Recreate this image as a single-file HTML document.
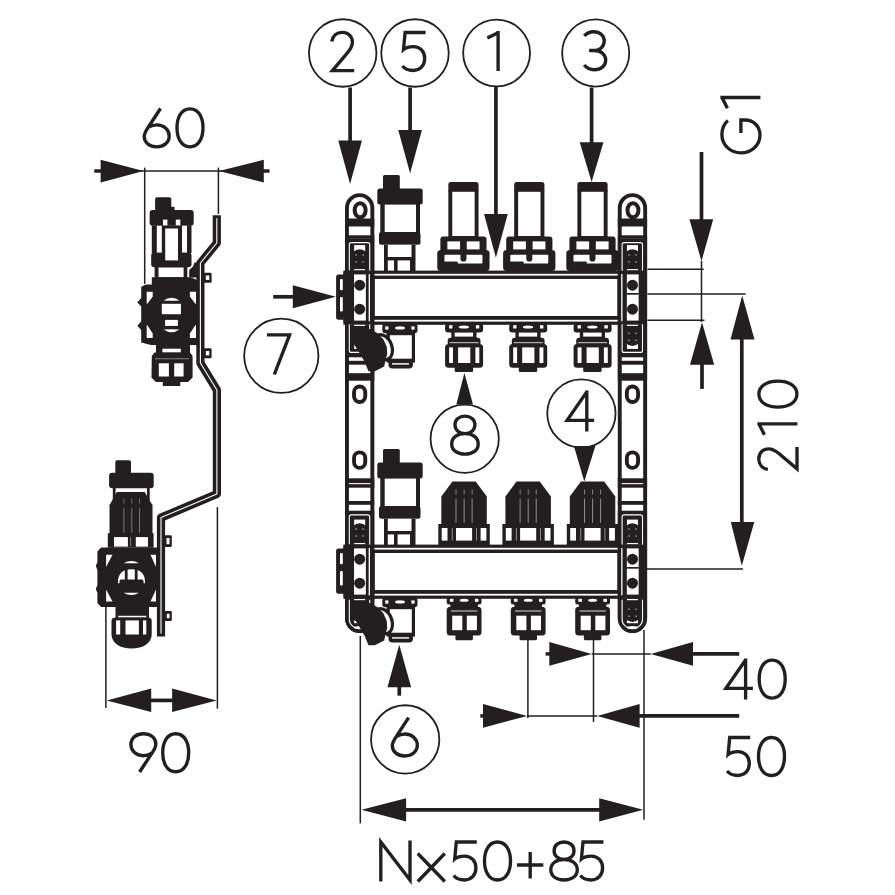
<!DOCTYPE html>
<html><head><meta charset="utf-8"><style>
html,body{margin:0;padding:0;background:#fff;}
svg{display:block;}
</style></head><body>
<svg width="895" height="895" viewBox="0 0 895 895">
<rect width="895" height="895" fill="#fff"/>
<circle cx="342.70" cy="53.00" r="33.75" fill="none" stroke="#231f20" stroke-width="1.8"/>
<circle cx="415.00" cy="53.00" r="33.75" fill="none" stroke="#231f20" stroke-width="1.8"/>
<circle cx="496.60" cy="53.00" r="33.45" fill="none" stroke="#231f20" stroke-width="1.8"/>
<circle cx="595.70" cy="53.00" r="33.55" fill="none" stroke="#231f20" stroke-width="1.8"/>
<circle cx="281.30" cy="355.80" r="37.15" fill="none" stroke="#231f20" stroke-width="1.8"/>
<circle cx="464.70" cy="438.80" r="34.15" fill="none" stroke="#231f20" stroke-width="1.8"/>
<circle cx="581.40" cy="413.50" r="34.15" fill="none" stroke="#231f20" stroke-width="1.8"/>
<circle cx="405.20" cy="739.40" r="34.15" fill="none" stroke="#231f20" stroke-width="1.8"/>
<g transform="translate(330.20,31.00) rotate(0) scale(1.0)"><path transform="translate(0.00,0)" d="M1.6,10.5 C2.5,4.8 6.5,1.4 12,1.4 C18,1.4 22.2,5.5 22.2,11.2 C22.2,15.5 20,18.5 17.2,21.8 L2.2,39.6 L24,39.6" fill="none" stroke="#231f20" stroke-width="3.35" stroke-linecap="butt" stroke-linejoin="miter"/></g>
<g transform="translate(401.10,31.00) rotate(0) scale(1.0)"><path transform="translate(0.00,0)" d="M24.5,1.5 L4,1.5 L2.4,18.5 C4.8,16.5 8.3,15.6 12.3,15.6 C19,15.6 23.6,20.5 23.6,27.5 C23.6,34.7 18.8,39.5 12.2,39.5 C7.5,39.5 3.5,37.7 1.4,35" fill="none" stroke="#231f20" stroke-width="3.35" stroke-linecap="butt" stroke-linejoin="miter"/></g>
<g transform="translate(485.80,31.10) rotate(0) scale(1.0)"><path transform="translate(0.00,0)" d="M1.5,7 L12.3,1.6 M12.3,0 L12.3,40" fill="none" stroke="#231f20" stroke-width="3.35" stroke-linecap="butt" stroke-linejoin="miter"/></g>
<g transform="translate(582.70,30.20) rotate(0) scale(1.0)"><path transform="translate(0.00,0)" d="M1.6,5.6 C4,2.8 7.5,1.5 11,1.5 C17,1.5 21.5,5.2 21.5,10.8 C21.5,16.5 17,20.3 11,20.3 L6.4,20.3 M11,20.3 C18.5,20.3 23,24.5 23,30 C23,35.8 18.2,39.5 11.5,39.5 C7.3,39.5 3.8,37.6 1.5,34.8" fill="none" stroke="#231f20" stroke-width="3.35" stroke-linecap="butt" stroke-linejoin="miter"/></g>
<g transform="translate(265.80,333.50) rotate(0) scale(1.0)"><path transform="translate(0.00,0)" d="M1.2,1.4 L23.8,1.4 L8.5,41" fill="none" stroke="#231f20" stroke-width="3.35" stroke-linecap="butt" stroke-linejoin="miter"/></g>
<g transform="translate(450.20,414.60) rotate(0) scale(1.0)"><path transform="translate(0.00,0)" d="M14.75,19 C9,19 4.8,15.5 4.8,10.2 C4.8,4.9 9,1.5 14.75,1.5 C20.5,1.5 24.7,4.9 24.7,10.2 C24.7,15.5 20.5,19 14.75,19 C7,19 1.5,23 1.5,29.3 C1.5,35.6 7,39.5 14.75,39.5 C22.5,39.5 28,35.6 28,29.3 C28,23 22.5,19 14.75,19 Z" fill="none" stroke="#231f20" stroke-width="3.35" stroke-linecap="butt" stroke-linejoin="miter"/></g>
<g transform="translate(565.30,390.50) rotate(0) scale(1.0)"><path transform="translate(0.00,0)" d="M21.5,1.4 L1.8,29.8 L28.8,29.8 M21.5,0 L21.5,41" fill="none" stroke="#231f20" stroke-width="3.35" stroke-linecap="butt" stroke-linejoin="miter"/></g>
<g transform="translate(390.80,716.50) rotate(0) scale(1.0)"><path transform="translate(0.00,0)" d="M17.8,1.2 L5.4,20.2 C3.2,23.5 1.5,26 1.5,29.3 C1.5,35.3 7,39.5 14,39.5 C21,39.5 26.5,35.3 26.5,28.6 C26.5,22.2 21,17.5 14.3,17.5 C11.3,17.5 8.5,18.3 6,19.8" fill="none" stroke="#231f20" stroke-width="3.35" stroke-linecap="butt" stroke-linejoin="miter"/></g>
<line x1="350.10" y1="87.50" x2="350.10" y2="141.60" stroke="#231f20" stroke-width="3.7"/>
<polygon points="338.25,140.60 361.95,140.60 350.10,183.90" fill="#231f20"/>
<line x1="410.10" y1="87.50" x2="410.10" y2="130.90" stroke="#231f20" stroke-width="3.7"/>
<polygon points="398.25,129.90 421.95,129.90 410.10,173.20" fill="#231f20"/>
<line x1="495.90" y1="87.00" x2="495.90" y2="215.10" stroke="#231f20" stroke-width="3.7"/>
<polygon points="484.05,214.10 507.75,214.10 495.90,257.70" fill="#231f20"/>
<line x1="591.60" y1="87.50" x2="591.60" y2="143.30" stroke="#231f20" stroke-width="3.7"/>
<polygon points="579.75,142.30 603.45,142.30 591.60,181.90" fill="#231f20"/>
<line x1="273.20" y1="296.80" x2="293.80" y2="296.80" stroke="#231f20" stroke-width="3.7"/>
<polygon points="292.80,285.30 292.80,308.30 335.90,296.80" fill="#231f20"/>
<polygon points="456.30,404.40 473.00,404.40 464.40,373.10" fill="#231f20"/>
<polygon points="573.90,446.00 595.40,446.00 584.30,481.40" fill="#231f20"/>
<line x1="399.30" y1="695.70" x2="399.30" y2="686.20" stroke="#231f20" stroke-width="3.7"/>
<polygon points="387.45,687.20 411.15,687.20 399.30,644.70" fill="#231f20"/>
<rect x="343.40" y="270.60" width="278.60" height="54.20" rx="0" fill="#231f20" />
<rect x="374.70" y="279.00" width="242.70" height="37.00" rx="0" fill="#fff" />
<rect x="372.00" y="273.80" width="247.50" height="1.80" rx="0" fill="#fff" />
<rect x="372.00" y="319.80" width="247.50" height="1.80" rx="0" fill="#fff" />
<rect x="368.60" y="274.10" width="1.30" height="47.20" rx="0" fill="#fff" />
<rect x="621.20" y="274.10" width="1.30" height="47.20" rx="0" fill="#fff" />
<rect x="343.40" y="544.60" width="278.60" height="54.20" rx="0" fill="#231f20" />
<rect x="374.70" y="553.00" width="242.70" height="37.00" rx="0" fill="#fff" />
<rect x="372.00" y="547.80" width="247.50" height="1.80" rx="0" fill="#fff" />
<rect x="372.00" y="593.80" width="247.50" height="1.80" rx="0" fill="#fff" />
<rect x="368.60" y="548.10" width="1.30" height="47.20" rx="0" fill="#fff" />
<rect x="621.20" y="548.10" width="1.30" height="47.20" rx="0" fill="#fff" />
<rect x="346.95" y="195.15" width="25.40" height="435.9" rx="12.7" fill="#fff" stroke="#231f20" stroke-width="3.9"/>
<ellipse cx="360.15" cy="210.2" rx="5.5" ry="7" fill="none" stroke="#231f20" stroke-width="4"/>
<rect x="345.00" y="218.50" width="29.30" height="8.00" rx="0" fill="#231f20" />
<rect x="345.00" y="235.30" width="29.30" height="3.40" rx="0" fill="#231f20" />
<rect x="345.00" y="238.40" width="29.30" height="32.50" rx="0" fill="#231f20" />
<path d="M349.30,271.10 L349.30,244.60 Q349.30,242.60 351.30,242.60 L367.70,242.60 Q369.70,242.60 369.70,244.60 L369.70,271.10" fill="none" stroke="#fff" stroke-width="1.1"/>
<rect x="354.15" y="245.10" width="11.00" height="6.90" rx="0" fill="#fff" />
<circle cx="359.65" cy="258.50" r="9.2" fill="#231f20"/>
<rect x="355.05" y="254.40" width="2.2" height="1.2" fill="#8a8a8a"/>
<rect x="355.05" y="261.40" width="2.2" height="1.2" fill="#8a8a8a"/>
<rect x="362.05" y="254.40" width="2.2" height="1.2" fill="#8a8a8a"/>
<rect x="362.05" y="261.40" width="2.2" height="1.2" fill="#8a8a8a"/>
<rect x="354.15" y="269.10" width="11.00" height="1.20" rx="0" fill="#fff" />
<rect x="345.00" y="270.60" width="29.30" height="54.20" rx="0" fill="#231f20" />
<rect x="354.05" y="274.40" width="11.80" height="46.20" rx="0" fill="#fff" />
<circle cx="359.65" cy="285.2" r="5.5" fill="#231f20"/>
<circle cx="359.65" cy="309.2" r="5.5" fill="#231f20"/>
<rect x="368.65" y="274.10" width="1.30" height="47.20" rx="0" fill="#fff" />
<rect x="345.00" y="324.50" width="29.30" height="32.10" rx="0" fill="#231f20" />
<path d="M349.30,324.30 L349.30,350.40 Q349.30,352.40 351.30,352.40 L367.70,352.40 Q369.70,352.40 369.70,350.40 L369.70,324.30" fill="none" stroke="#fff" stroke-width="1.1"/>
<rect x="354.15" y="342.00" width="11.00" height="6.90" rx="0" fill="#fff" />
<circle cx="359.65" cy="336.80" r="9.2" fill="#231f20"/>
<rect x="355.05" y="332.70" width="2.2" height="1.2" fill="#8a8a8a"/>
<rect x="355.05" y="339.70" width="2.2" height="1.2" fill="#8a8a8a"/>
<rect x="362.05" y="332.70" width="2.2" height="1.2" fill="#8a8a8a"/>
<rect x="362.05" y="339.70" width="2.2" height="1.2" fill="#8a8a8a"/>
<rect x="354.15" y="324.80" width="11.00" height="1.20" rx="0" fill="#fff" />
<rect x="345.00" y="356.00" width="29.30" height="24.70" rx="0" fill="#231f20" />
<rect x="348.95" y="357.30" width="21.40" height="3.50" rx="0" fill="#fff" />
<rect x="348.95" y="364.70" width="21.40" height="8.50" rx="0" fill="#fff" />
<rect x="354.05" y="386.45" width="11.2" height="15.5" rx="5.6" ry="5.6" fill="none" stroke="#231f20" stroke-width="3.9"/>
<rect x="354.05" y="452.35" width="11.2" height="15.5" rx="5.6" ry="5.6" fill="none" stroke="#231f20" stroke-width="3.9"/>
<rect x="345.00" y="478.30" width="29.30" height="9.40" rx="0" fill="#231f20" />
<rect x="348.90" y="483.10" width="21.50" height="1.10" rx="0" fill="#fff" />
<rect x="345.00" y="501.00" width="29.30" height="3.80" rx="0" fill="#231f20" />
<rect x="345.00" y="510.70" width="29.30" height="34.20" rx="0" fill="#231f20" />
<path d="M349.30,545.10 L349.30,516.90 Q349.30,514.90 351.30,514.90 L367.70,514.90 Q369.70,514.90 369.70,516.90 L369.70,545.10" fill="none" stroke="#fff" stroke-width="1.1"/>
<rect x="354.15" y="519.60" width="11.00" height="6.40" rx="0" fill="#fff" />
<circle cx="359.65" cy="532.50" r="9.2" fill="#231f20"/>
<rect x="355.05" y="528.40" width="2.2" height="1.2" fill="#8a8a8a"/>
<rect x="355.05" y="535.40" width="2.2" height="1.2" fill="#8a8a8a"/>
<rect x="362.05" y="528.40" width="2.2" height="1.2" fill="#8a8a8a"/>
<rect x="362.05" y="535.40" width="2.2" height="1.2" fill="#8a8a8a"/>
<rect x="354.15" y="543.00" width="11.00" height="1.20" rx="0" fill="#fff" />
<rect x="345.00" y="544.60" width="29.30" height="54.30" rx="0" fill="#231f20" />
<rect x="354.05" y="548.40" width="11.80" height="46.20" rx="0" fill="#fff" />
<circle cx="359.65" cy="559.2" r="5.5" fill="#231f20"/>
<circle cx="359.65" cy="583.2" r="5.5" fill="#231f20"/>
<rect x="368.65" y="548.10" width="1.30" height="47.20" rx="0" fill="#fff" />
<path d="M345.00,598.6 L374.30,598.6 L374.30,618.35 A14.65,14.65 0 0 1 345.00,618.35 Z" fill="#231f20"/>
<path d="M349.30,599.8 L349.30,619.5 A10.2,9 0 0 0 369.70,619.5 L369.70,599.8" fill="none" stroke="#fff" stroke-width="1.1"/>
<rect x="354.15" y="617.00" width="11.00" height="6.20" rx="0" fill="#fff" />
<circle cx="359.65" cy="612.70" r="9.2" fill="#231f20"/>
<rect x="355.05" y="608.60" width="2.2" height="1.2" fill="#8a8a8a"/>
<rect x="355.05" y="615.60" width="2.2" height="1.2" fill="#8a8a8a"/>
<rect x="362.05" y="608.60" width="2.2" height="1.2" fill="#8a8a8a"/>
<rect x="362.05" y="615.60" width="2.2" height="1.2" fill="#8a8a8a"/>
<rect x="354.15" y="599.00" width="11.00" height="1.20" rx="0" fill="#fff" />
<ellipse cx="359.65" cy="627.6" rx="6.0" ry="1.6" fill="#fff"/>
<rect x="619.75" y="195.15" width="25.40" height="435.9" rx="12.7" fill="#fff" stroke="#231f20" stroke-width="3.9"/>
<ellipse cx="632.95" cy="210.2" rx="5.5" ry="7" fill="none" stroke="#231f20" stroke-width="4"/>
<rect x="617.80" y="218.50" width="29.30" height="8.00" rx="0" fill="#231f20" />
<rect x="617.80" y="235.30" width="29.30" height="3.40" rx="0" fill="#231f20" />
<rect x="617.80" y="238.40" width="29.30" height="32.50" rx="0" fill="#231f20" />
<path d="M622.10,271.10 L622.10,244.60 Q622.10,242.60 624.10,242.60 L640.50,242.60 Q642.50,242.60 642.50,244.60 L642.50,271.10" fill="none" stroke="#fff" stroke-width="1.1"/>
<rect x="626.95" y="245.10" width="11.00" height="6.90" rx="0" fill="#fff" />
<circle cx="632.45" cy="258.50" r="9.2" fill="#231f20"/>
<rect x="627.85" y="254.40" width="2.2" height="1.2" fill="#8a8a8a"/>
<rect x="627.85" y="261.40" width="2.2" height="1.2" fill="#8a8a8a"/>
<rect x="634.85" y="254.40" width="2.2" height="1.2" fill="#8a8a8a"/>
<rect x="634.85" y="261.40" width="2.2" height="1.2" fill="#8a8a8a"/>
<rect x="626.95" y="269.10" width="11.00" height="1.20" rx="0" fill="#fff" />
<rect x="617.80" y="270.60" width="29.30" height="54.20" rx="0" fill="#231f20" />
<rect x="626.85" y="274.40" width="11.80" height="46.20" rx="0" fill="#fff" />
<circle cx="632.45" cy="285.2" r="5.5" fill="#231f20"/>
<circle cx="632.45" cy="309.2" r="5.5" fill="#231f20"/>
<rect x="621.20" y="274.10" width="1.30" height="47.20" rx="0" fill="#fff" />
<rect x="626.85" y="293.00" width="11.80" height="1.70" rx="0" fill="#231f20" />
<rect x="617.80" y="324.50" width="29.30" height="32.10" rx="0" fill="#231f20" />
<path d="M622.10,324.30 L622.10,350.40 Q622.10,352.40 624.10,352.40 L640.50,352.40 Q642.50,352.40 642.50,350.40 L642.50,324.30" fill="none" stroke="#fff" stroke-width="1.1"/>
<rect x="626.95" y="342.00" width="11.00" height="6.90" rx="0" fill="#fff" />
<circle cx="632.45" cy="336.80" r="9.2" fill="#231f20"/>
<rect x="627.85" y="332.70" width="2.2" height="1.2" fill="#8a8a8a"/>
<rect x="627.85" y="339.70" width="2.2" height="1.2" fill="#8a8a8a"/>
<rect x="634.85" y="332.70" width="2.2" height="1.2" fill="#8a8a8a"/>
<rect x="634.85" y="339.70" width="2.2" height="1.2" fill="#8a8a8a"/>
<rect x="626.95" y="324.80" width="11.00" height="1.20" rx="0" fill="#fff" />
<rect x="617.80" y="356.00" width="29.30" height="24.70" rx="0" fill="#231f20" />
<rect x="621.75" y="357.30" width="21.40" height="3.50" rx="0" fill="#fff" />
<rect x="621.75" y="364.70" width="21.40" height="8.50" rx="0" fill="#fff" />
<rect x="626.85" y="386.45" width="11.2" height="15.5" rx="5.6" ry="5.6" fill="none" stroke="#231f20" stroke-width="3.9"/>
<rect x="626.85" y="452.35" width="11.2" height="15.5" rx="5.6" ry="5.6" fill="none" stroke="#231f20" stroke-width="3.9"/>
<rect x="617.80" y="478.30" width="29.30" height="9.40" rx="0" fill="#231f20" />
<rect x="621.70" y="483.10" width="21.50" height="1.10" rx="0" fill="#fff" />
<rect x="617.80" y="501.00" width="29.30" height="3.80" rx="0" fill="#231f20" />
<rect x="617.80" y="510.70" width="29.30" height="34.20" rx="0" fill="#231f20" />
<path d="M622.10,545.10 L622.10,516.90 Q622.10,514.90 624.10,514.90 L640.50,514.90 Q642.50,514.90 642.50,516.90 L642.50,545.10" fill="none" stroke="#fff" stroke-width="1.1"/>
<rect x="626.95" y="519.60" width="11.00" height="6.40" rx="0" fill="#fff" />
<circle cx="632.45" cy="532.50" r="9.2" fill="#231f20"/>
<rect x="627.85" y="528.40" width="2.2" height="1.2" fill="#8a8a8a"/>
<rect x="627.85" y="535.40" width="2.2" height="1.2" fill="#8a8a8a"/>
<rect x="634.85" y="528.40" width="2.2" height="1.2" fill="#8a8a8a"/>
<rect x="634.85" y="535.40" width="2.2" height="1.2" fill="#8a8a8a"/>
<rect x="626.95" y="543.00" width="11.00" height="1.20" rx="0" fill="#fff" />
<rect x="617.80" y="544.60" width="29.30" height="54.30" rx="0" fill="#231f20" />
<rect x="626.85" y="548.40" width="11.80" height="46.20" rx="0" fill="#fff" />
<circle cx="632.45" cy="559.2" r="5.5" fill="#231f20"/>
<circle cx="632.45" cy="583.2" r="5.5" fill="#231f20"/>
<rect x="621.20" y="548.10" width="1.30" height="47.20" rx="0" fill="#fff" />
<rect x="626.85" y="567.00" width="11.80" height="1.70" rx="0" fill="#231f20" />
<path d="M617.80,598.6 L647.10,598.6 L647.10,618.35 A14.65,14.65 0 0 1 617.80,618.35 Z" fill="#231f20"/>
<path d="M622.10,599.8 L622.10,619.5 A10.2,9 0 0 0 642.50,619.5 L642.50,599.8" fill="none" stroke="#fff" stroke-width="1.1"/>
<rect x="626.95" y="617.00" width="11.00" height="6.20" rx="0" fill="#fff" />
<circle cx="632.45" cy="612.70" r="9.2" fill="#231f20"/>
<rect x="627.85" y="608.60" width="2.2" height="1.2" fill="#8a8a8a"/>
<rect x="627.85" y="615.60" width="2.2" height="1.2" fill="#8a8a8a"/>
<rect x="634.85" y="608.60" width="2.2" height="1.2" fill="#8a8a8a"/>
<rect x="634.85" y="615.60" width="2.2" height="1.2" fill="#8a8a8a"/>
<rect x="626.95" y="599.00" width="11.00" height="1.20" rx="0" fill="#fff" />
<ellipse cx="632.45" cy="627.6" rx="6.0" ry="1.6" fill="#fff"/>
<rect x="383.00" y="175.00" width="16.80" height="15.00" rx="1.5" fill="#231f20" />
<rect x="377.30" y="188.40" width="45.40" height="16.20" rx="2.5" fill="#231f20" />
<rect x="380.30" y="204.00" width="39.70" height="29.00" rx="0" fill="#231f20" />
<rect x="384.70" y="204.60" width="31.30" height="27.40" rx="0" fill="#fff" />
<rect x="379.00" y="232.00" width="41.50" height="12.80" rx="2.5" fill="#231f20" />
<rect x="384.00" y="244.80" width="31.50" height="26.20" rx="0" fill="#231f20" />
<rect x="387.80" y="244.80" width="23.70" height="12.20" rx="0" fill="#fff" />
<rect x="387.80" y="260.40" width="6.20" height="10.20" rx="0" fill="#fff" />
<rect x="397.60" y="260.40" width="12.40" height="10.20" rx="0" fill="#fff" />
<rect x="383.00" y="449.00" width="16.80" height="15.00" rx="1.5" fill="#231f20" />
<rect x="377.30" y="462.40" width="45.40" height="16.20" rx="2.5" fill="#231f20" />
<rect x="380.30" y="478.00" width="39.70" height="29.00" rx="0" fill="#231f20" />
<rect x="384.70" y="478.60" width="31.30" height="27.40" rx="0" fill="#fff" />
<rect x="379.00" y="506.00" width="41.50" height="12.80" rx="2.5" fill="#231f20" />
<rect x="384.00" y="518.80" width="31.50" height="26.20" rx="0" fill="#231f20" />
<rect x="387.80" y="518.80" width="23.70" height="12.20" rx="0" fill="#fff" />
<rect x="387.80" y="534.40" width="6.20" height="10.20" rx="0" fill="#fff" />
<rect x="397.60" y="534.40" width="12.40" height="10.20" rx="0" fill="#fff" />
<rect x="448.35" y="182.00" width="30.20" height="10.50" rx="2.5" fill="#231f20" />
<rect x="448.35" y="190.00" width="30.20" height="47.00" rx="0" fill="#231f20" />
<rect x="452.25" y="191.80" width="22.40" height="44.20" rx="0" fill="#fff" />
<rect x="440.35" y="236.40" width="46.20" height="15.60" rx="3" fill="#231f20" />
<rect x="447.35" y="241.40" width="12.70" height="8.00" rx="0" fill="#fff" />
<rect x="466.75" y="241.40" width="12.80" height="8.00" rx="0" fill="#fff" />
<rect x="437.25" y="250.10" width="52.30" height="20.90" rx="3.5" fill="#231f20" />
<rect x="444.45" y="254.80" width="38.00" height="8.70" rx="1" fill="#fff" />
<rect x="460.45" y="252.00" width="6.00" height="9.50" rx="2.8" fill="#231f20" />
<rect x="443.65" y="261.60" width="14.10" height="4.40" rx="1" fill="#231f20" />
<rect x="514.20" y="182.00" width="30.20" height="10.50" rx="2.5" fill="#231f20" />
<rect x="514.20" y="190.00" width="30.20" height="47.00" rx="0" fill="#231f20" />
<rect x="518.10" y="191.80" width="22.40" height="44.20" rx="0" fill="#fff" />
<rect x="506.20" y="236.40" width="46.20" height="15.60" rx="3" fill="#231f20" />
<rect x="513.20" y="241.40" width="12.70" height="8.00" rx="0" fill="#fff" />
<rect x="532.60" y="241.40" width="12.80" height="8.00" rx="0" fill="#fff" />
<rect x="503.10" y="250.10" width="52.30" height="20.90" rx="3.5" fill="#231f20" />
<rect x="510.30" y="254.80" width="38.00" height="8.70" rx="1" fill="#fff" />
<rect x="526.30" y="252.00" width="6.00" height="9.50" rx="2.8" fill="#231f20" />
<rect x="509.50" y="261.60" width="14.10" height="4.40" rx="1" fill="#231f20" />
<rect x="577.40" y="182.00" width="30.20" height="10.50" rx="2.5" fill="#231f20" />
<rect x="577.40" y="190.00" width="30.20" height="47.00" rx="0" fill="#231f20" />
<rect x="581.30" y="191.80" width="22.40" height="44.20" rx="0" fill="#fff" />
<rect x="569.40" y="236.40" width="46.20" height="15.60" rx="3" fill="#231f20" />
<rect x="576.40" y="241.40" width="12.70" height="8.00" rx="0" fill="#fff" />
<rect x="595.80" y="241.40" width="12.80" height="8.00" rx="0" fill="#fff" />
<rect x="566.30" y="250.10" width="52.30" height="20.90" rx="3.5" fill="#231f20" />
<rect x="573.50" y="254.80" width="38.00" height="8.70" rx="1" fill="#fff" />
<rect x="589.50" y="252.00" width="6.00" height="9.50" rx="2.8" fill="#231f20" />
<rect x="572.70" y="261.60" width="14.10" height="4.40" rx="1" fill="#231f20" />
<polygon points="452.40,481.60 475.70,481.60 486.80,496.40 486.80,525.00 441.30,525.00 441.30,496.40" fill="#231f20"/>
<rect x="455.55" y="498.60" width="0.90" height="24.20" rx="0" fill="#9a9a9a" />
<rect x="463.65" y="498.60" width="0.90" height="24.20" rx="0" fill="#9a9a9a" />
<rect x="471.65" y="498.60" width="0.90" height="24.20" rx="0" fill="#9a9a9a" />
<rect x="455.60" y="489.50" width="0.80" height="5.00" rx="0" fill="#9a9a9a" />
<rect x="463.70" y="489.50" width="0.80" height="5.00" rx="0" fill="#9a9a9a" />
<rect x="471.70" y="489.50" width="0.80" height="5.00" rx="0" fill="#9a9a9a" />
<rect x="438.30" y="524.00" width="51.50" height="21.00" rx="0" fill="#231f20" />
<rect x="441.70" y="528.00" width="5.80" height="12.60" rx="0" fill="#fff" />
<rect x="456.00" y="528.00" width="16.10" height="12.60" rx="0" fill="#fff" />
<rect x="480.60" y="528.00" width="5.80" height="12.60" rx="0" fill="#fff" />
<rect x="451.80" y="528.00" width="0.90" height="12.60" rx="0" fill="#9a9a9a" />
<rect x="476.00" y="528.00" width="0.90" height="12.60" rx="0" fill="#9a9a9a" />
<rect x="445.10" y="323.50" width="38.00" height="9.00" rx="3" fill="#231f20" />
<rect x="449.10" y="325.20" width="3.30" height="3.30" rx="0" fill="#fff" />
<rect x="475.90" y="325.20" width="3.40" height="3.30" rx="0" fill="#fff" />
<ellipse cx="463.90" cy="327" rx="5.2" ry="1.6" fill="#fff"/>
<rect x="451.30" y="331.80" width="25.20" height="7.20" rx="0" fill="#231f20" />
<rect x="454.70" y="332.60" width="18.40" height="4.00" rx="0" fill="#fff" />
<rect x="447.70" y="337.80" width="32.80" height="8.20" rx="3" fill="#231f20" />
<rect x="445.10" y="344.00" width="38.00" height="23.80" rx="3.5" fill="#231f20" />
<rect x="449.60" y="342.00" width="29.00" height="1.20" rx="0" fill="#b0b0b0" />
<rect x="449.10" y="347.40" width="3.90" height="15.60" rx="0" fill="#fff" />
<rect x="458.10" y="347.40" width="12.20" height="15.60" rx="0" fill="#fff" />
<rect x="475.40" y="347.40" width="3.90" height="15.60" rx="0" fill="#fff" />
<rect x="454.70" y="366.00" width="18.40" height="6.00" rx="1.5" fill="#231f20" />
<rect x="446.70" y="597.50" width="34.80" height="7.00" rx="2.5" fill="#231f20" />
<rect x="449.90" y="598.80" width="3.50" height="3.00" rx="0" fill="#fff" />
<rect x="474.90" y="598.80" width="3.50" height="3.00" rx="0" fill="#fff" />
<ellipse cx="464.10" cy="600.3" rx="4.5" ry="1.5" fill="#fff"/>
<rect x="450.40" y="603.50" width="27.50" height="4.50" rx="0" fill="#231f20" />
<rect x="446.70" y="606.80" width="34.80" height="28.70" rx="3.5" fill="#231f20" />
<rect x="450.90" y="610.50" width="26.50" height="1.00" rx="0" fill="#d8d8d8" />
<rect x="452.20" y="615.70" width="10.10" height="14.50" rx="0" fill="#fff" />
<rect x="466.80" y="615.70" width="10.10" height="14.50" rx="0" fill="#fff" />
<rect x="455.40" y="634.00" width="17.50" height="6.30" rx="1.5" fill="#231f20" />
<polygon points="516.50,481.60 539.80,481.60 550.90,496.40 550.90,525.00 505.40,525.00 505.40,496.40" fill="#231f20"/>
<rect x="519.65" y="498.60" width="0.90" height="24.20" rx="0" fill="#9a9a9a" />
<rect x="527.75" y="498.60" width="0.90" height="24.20" rx="0" fill="#9a9a9a" />
<rect x="535.75" y="498.60" width="0.90" height="24.20" rx="0" fill="#9a9a9a" />
<rect x="519.70" y="489.50" width="0.80" height="5.00" rx="0" fill="#9a9a9a" />
<rect x="527.80" y="489.50" width="0.80" height="5.00" rx="0" fill="#9a9a9a" />
<rect x="535.80" y="489.50" width="0.80" height="5.00" rx="0" fill="#9a9a9a" />
<rect x="502.40" y="524.00" width="51.50" height="21.00" rx="0" fill="#231f20" />
<rect x="505.80" y="528.00" width="5.80" height="12.60" rx="0" fill="#fff" />
<rect x="520.10" y="528.00" width="16.10" height="12.60" rx="0" fill="#fff" />
<rect x="544.70" y="528.00" width="5.80" height="12.60" rx="0" fill="#fff" />
<rect x="515.90" y="528.00" width="0.90" height="12.60" rx="0" fill="#9a9a9a" />
<rect x="540.10" y="528.00" width="0.90" height="12.60" rx="0" fill="#9a9a9a" />
<rect x="509.20" y="323.50" width="38.00" height="9.00" rx="3" fill="#231f20" />
<rect x="513.20" y="325.20" width="3.30" height="3.30" rx="0" fill="#fff" />
<rect x="540.00" y="325.20" width="3.40" height="3.30" rx="0" fill="#fff" />
<ellipse cx="528.00" cy="327" rx="5.2" ry="1.6" fill="#fff"/>
<rect x="515.40" y="331.80" width="25.20" height="7.20" rx="0" fill="#231f20" />
<rect x="518.80" y="332.60" width="18.40" height="4.00" rx="0" fill="#fff" />
<rect x="511.80" y="337.80" width="32.80" height="8.20" rx="3" fill="#231f20" />
<rect x="509.20" y="344.00" width="38.00" height="23.80" rx="3.5" fill="#231f20" />
<rect x="513.70" y="342.00" width="29.00" height="1.20" rx="0" fill="#b0b0b0" />
<rect x="513.20" y="347.40" width="3.90" height="15.60" rx="0" fill="#fff" />
<rect x="522.20" y="347.40" width="12.20" height="15.60" rx="0" fill="#fff" />
<rect x="539.50" y="347.40" width="3.90" height="15.60" rx="0" fill="#fff" />
<rect x="518.80" y="366.00" width="18.40" height="6.00" rx="1.5" fill="#231f20" />
<rect x="510.80" y="597.50" width="34.80" height="7.00" rx="2.5" fill="#231f20" />
<rect x="514.00" y="598.80" width="3.50" height="3.00" rx="0" fill="#fff" />
<rect x="539.00" y="598.80" width="3.50" height="3.00" rx="0" fill="#fff" />
<ellipse cx="528.20" cy="600.3" rx="4.5" ry="1.5" fill="#fff"/>
<rect x="514.50" y="603.50" width="27.50" height="4.50" rx="0" fill="#231f20" />
<rect x="510.80" y="606.80" width="34.80" height="28.70" rx="3.5" fill="#231f20" />
<rect x="515.00" y="610.50" width="26.50" height="1.00" rx="0" fill="#d8d8d8" />
<rect x="516.30" y="615.70" width="10.10" height="14.50" rx="0" fill="#fff" />
<rect x="530.90" y="615.70" width="10.10" height="14.50" rx="0" fill="#fff" />
<rect x="519.50" y="634.00" width="17.50" height="6.30" rx="1.5" fill="#231f20" />
<polygon points="580.90,481.60 604.20,481.60 615.30,496.40 615.30,525.00 569.80,525.00 569.80,496.40" fill="#231f20"/>
<rect x="584.05" y="498.60" width="0.90" height="24.20" rx="0" fill="#9a9a9a" />
<rect x="592.15" y="498.60" width="0.90" height="24.20" rx="0" fill="#9a9a9a" />
<rect x="600.15" y="498.60" width="0.90" height="24.20" rx="0" fill="#9a9a9a" />
<rect x="584.10" y="489.50" width="0.80" height="5.00" rx="0" fill="#9a9a9a" />
<rect x="592.20" y="489.50" width="0.80" height="5.00" rx="0" fill="#9a9a9a" />
<rect x="600.20" y="489.50" width="0.80" height="5.00" rx="0" fill="#9a9a9a" />
<rect x="566.80" y="524.00" width="51.50" height="21.00" rx="0" fill="#231f20" />
<rect x="570.20" y="528.00" width="5.80" height="12.60" rx="0" fill="#fff" />
<rect x="584.50" y="528.00" width="16.10" height="12.60" rx="0" fill="#fff" />
<rect x="609.10" y="528.00" width="5.80" height="12.60" rx="0" fill="#fff" />
<rect x="580.30" y="528.00" width="0.90" height="12.60" rx="0" fill="#9a9a9a" />
<rect x="604.50" y="528.00" width="0.90" height="12.60" rx="0" fill="#9a9a9a" />
<rect x="573.60" y="323.50" width="38.00" height="9.00" rx="3" fill="#231f20" />
<rect x="577.60" y="325.20" width="3.30" height="3.30" rx="0" fill="#fff" />
<rect x="604.40" y="325.20" width="3.40" height="3.30" rx="0" fill="#fff" />
<ellipse cx="592.40" cy="327" rx="5.2" ry="1.6" fill="#fff"/>
<rect x="579.80" y="331.80" width="25.20" height="7.20" rx="0" fill="#231f20" />
<rect x="583.20" y="332.60" width="18.40" height="4.00" rx="0" fill="#fff" />
<rect x="576.20" y="337.80" width="32.80" height="8.20" rx="3" fill="#231f20" />
<rect x="573.60" y="344.00" width="38.00" height="23.80" rx="3.5" fill="#231f20" />
<rect x="578.10" y="342.00" width="29.00" height="1.20" rx="0" fill="#b0b0b0" />
<rect x="577.60" y="347.40" width="3.90" height="15.60" rx="0" fill="#fff" />
<rect x="586.60" y="347.40" width="12.20" height="15.60" rx="0" fill="#fff" />
<rect x="603.90" y="347.40" width="3.90" height="15.60" rx="0" fill="#fff" />
<rect x="583.20" y="366.00" width="18.40" height="6.00" rx="1.5" fill="#231f20" />
<rect x="575.20" y="597.50" width="34.80" height="7.00" rx="2.5" fill="#231f20" />
<rect x="578.40" y="598.80" width="3.50" height="3.00" rx="0" fill="#fff" />
<rect x="603.40" y="598.80" width="3.50" height="3.00" rx="0" fill="#fff" />
<ellipse cx="592.60" cy="600.3" rx="4.5" ry="1.5" fill="#fff"/>
<rect x="578.90" y="603.50" width="27.50" height="4.50" rx="0" fill="#231f20" />
<rect x="575.20" y="606.80" width="34.80" height="28.70" rx="3.5" fill="#231f20" />
<rect x="579.40" y="610.50" width="26.50" height="1.00" rx="0" fill="#d8d8d8" />
<rect x="580.70" y="615.70" width="10.10" height="14.50" rx="0" fill="#fff" />
<rect x="595.30" y="615.70" width="10.10" height="14.50" rx="0" fill="#fff" />
<rect x="583.90" y="634.00" width="17.50" height="6.30" rx="1.5" fill="#231f20" />
<line x1="94.40" y1="171.00" x2="269.40" y2="171.00" stroke="#231f20" stroke-width="1.5"/>
<line x1="94.40" y1="171.00" x2="101.00" y2="171.00" stroke="#231f20" stroke-width="3.5"/>
<line x1="263.00" y1="171.00" x2="269.40" y2="171.00" stroke="#231f20" stroke-width="3.5"/>
<polygon points="100.60,159.80 100.60,182.60 143.50,171.00" fill="#231f20"/>
<polygon points="263.80,159.80 263.80,182.60 219.00,171.00" fill="#231f20"/>
<line x1="144.70" y1="167.60" x2="144.70" y2="283.90" stroke="#231f20" stroke-width="1.5"/>
<line x1="218.40" y1="167.60" x2="218.40" y2="214.00" stroke="#231f20" stroke-width="1.5"/>
<g transform="translate(142.70,107.30) rotate(0) scale(1.0)"><path transform="translate(0.00,0)" d="M17.8,1.2 L5.4,20.2 C3.2,23.5 1.5,26 1.5,29.3 C1.5,35.3 7,39.5 14,39.5 C21,39.5 26.5,35.3 26.5,28.6 C26.5,22.2 21,17.5 14.3,17.5 C11.3,17.5 8.5,18.3 6,19.8" fill="none" stroke="#231f20" stroke-width="3.35" stroke-linecap="butt" stroke-linejoin="miter"/><path transform="translate(32.80,0)" d="M14.5,1.5 C5.8,1.5 1.5,10.2 1.5,20.5 C1.5,30.8 5.8,39.5 14.5,39.5 C23.2,39.5 27.5,30.8 27.5,20.5 C27.5,10.2 23.2,1.5 14.5,1.5 Z" fill="none" stroke="#231f20" stroke-width="3.35" stroke-linecap="butt" stroke-linejoin="miter"/></g>
<line x1="105.90" y1="607.00" x2="105.90" y2="707.90" stroke="#231f20" stroke-width="1.5"/>
<line x1="217.40" y1="507.10" x2="217.40" y2="708.70" stroke="#231f20" stroke-width="1.5"/>
<line x1="150.00" y1="700.40" x2="173.00" y2="700.40" stroke="#231f20" stroke-width="3.7"/>
<polygon points="151.20,688.60 151.20,712.10 106.70,700.40" fill="#231f20"/>
<polygon points="172.10,688.60 172.10,712.10 216.60,700.40" fill="#231f20"/>
<g transform="translate(129.40,732.20) rotate(0) scale(1.0)"><path transform="translate(0.00,0)" d="M10.2,39.8 L22.6,20.8 C24.8,17.5 26.5,15 26.5,11.7 C26.5,5.7 21,1.5 14,1.5 C7,1.5 1.5,5.7 1.5,12.4 C1.5,18.8 7,23.5 13.7,23.5 C16.7,23.5 19.5,22.7 22,21.2" fill="none" stroke="#231f20" stroke-width="3.35" stroke-linecap="butt" stroke-linejoin="miter"/><path transform="translate(31.80,0)" d="M14.5,1.5 C5.8,1.5 1.5,10.2 1.5,20.5 C1.5,30.8 5.8,39.5 14.5,39.5 C23.2,39.5 27.5,30.8 27.5,20.5 C27.5,10.2 23.2,1.5 14.5,1.5 Z" fill="none" stroke="#231f20" stroke-width="3.35" stroke-linecap="butt" stroke-linejoin="miter"/></g>
<line x1="701.50" y1="152.00" x2="701.50" y2="221.00" stroke="#231f20" stroke-width="3.7"/>
<polygon points="689.40,219.30 713.20,219.30 701.50,261.20" fill="#231f20"/>
<line x1="701.50" y1="261.00" x2="701.50" y2="322.00" stroke="#231f20" stroke-width="1.5"/>
<polygon points="690.00,364.80 714.20,364.80 702.00,322.30" fill="#231f20"/>
<line x1="702.00" y1="363.00" x2="702.00" y2="388.90" stroke="#231f20" stroke-width="3.7"/>
<line x1="647.50" y1="269.30" x2="703.70" y2="269.30" stroke="#231f20" stroke-width="1.5"/>
<line x1="647.50" y1="293.90" x2="745.60" y2="293.90" stroke="#231f20" stroke-width="1.5"/>
<line x1="647.50" y1="320.30" x2="704.50" y2="320.30" stroke="#231f20" stroke-width="1.5"/>
<g transform="translate(720.40,154.60) rotate(-90) scale(1.0)"><path transform="translate(0.30,0)" d="M33.8,7.5 C30.5,3.6 25.8,1.5 19.5,1.5 C9.3,1.5 1.5,10 1.5,20.5 C1.5,31.2 9.3,39.6 19,39.6 C28,39.6 34.3,33 34.3,25 L34.3,20.5 L21.3,20.5" fill="none" stroke="#231f20" stroke-width="3.35" stroke-linecap="butt" stroke-linejoin="miter"/><path transform="translate(44.80,0)" d="M1.5,7 L12.3,1.6 M12.3,0 L12.3,40" fill="none" stroke="#231f20" stroke-width="3.35" stroke-linecap="butt" stroke-linejoin="miter"/></g>
<polygon points="730.50,339.60 754.50,339.60 742.20,295.50" fill="#231f20"/>
<line x1="741.80" y1="338.00" x2="741.80" y2="524.00" stroke="#231f20" stroke-width="3.7"/>
<polygon points="730.80,522.00 754.30,522.00 741.80,565.80" fill="#231f20"/>
<line x1="646.00" y1="568.90" x2="743.00" y2="568.90" stroke="#231f20" stroke-width="1.5"/>
<g transform="translate(757.40,471.80) rotate(-90) scale(1.0)"><path transform="translate(0.80,0)" d="M1.6,10.5 C2.5,4.8 6.5,1.4 12,1.4 C18,1.4 22.2,5.5 22.2,11.2 C22.2,15.5 20,18.5 17.2,21.8 L2.2,39.6 L24,39.6" fill="none" stroke="#231f20" stroke-width="3.35" stroke-linecap="butt" stroke-linejoin="miter"/><path transform="translate(35.60,0)" d="M1.5,7 L12.3,1.6 M12.3,0 L12.3,40" fill="none" stroke="#231f20" stroke-width="3.35" stroke-linecap="butt" stroke-linejoin="miter"/><path transform="translate(63.20,0)" d="M14.5,1.5 C5.8,1.5 1.5,10.2 1.5,20.5 C1.5,30.8 5.8,39.5 14.5,39.5 C23.2,39.5 27.5,30.8 27.5,20.5 C27.5,10.2 23.2,1.5 14.5,1.5 Z" fill="none" stroke="#231f20" stroke-width="3.35" stroke-linecap="butt" stroke-linejoin="miter"/></g>
<line x1="527.90" y1="640.00" x2="527.90" y2="718.00" stroke="#231f20" stroke-width="1.5"/>
<line x1="593.50" y1="640.00" x2="593.50" y2="722.00" stroke="#231f20" stroke-width="1.5"/>
<line x1="644.00" y1="630.00" x2="644.00" y2="819.80" stroke="#231f20" stroke-width="1.5"/>
<line x1="360.30" y1="636.00" x2="360.30" y2="823.30" stroke="#231f20" stroke-width="1.5"/>
<line x1="545.60" y1="653.90" x2="551.00" y2="653.90" stroke="#231f20" stroke-width="3.5"/>
<polygon points="549.30,642.00 549.30,665.80 591.70,653.90" fill="#231f20"/>
<line x1="591.70" y1="653.90" x2="650.70" y2="653.90" stroke="#231f20" stroke-width="1.5"/>
<polygon points="693.00,642.00 693.00,665.80 650.70,653.90" fill="#231f20"/>
<line x1="692.00" y1="653.90" x2="739.20" y2="653.90" stroke="#231f20" stroke-width="3.7"/>
<g transform="translate(724.10,658.60) rotate(0) scale(1.0)"><path transform="translate(0.00,0)" d="M21.5,1.4 L1.8,29.8 L28.8,29.8 M21.5,0 L21.5,41" fill="none" stroke="#231f20" stroke-width="3.35" stroke-linecap="butt" stroke-linejoin="miter"/><path transform="translate(33.60,0)" d="M14.5,1.5 C5.8,1.5 1.5,10.2 1.5,20.5 C1.5,30.8 5.8,39.5 14.5,39.5 C23.2,39.5 27.5,30.8 27.5,20.5 C27.5,10.2 23.2,1.5 14.5,1.5 Z" fill="none" stroke="#231f20" stroke-width="3.35" stroke-linecap="butt" stroke-linejoin="miter"/></g>
<line x1="480.30" y1="715.90" x2="486.00" y2="715.90" stroke="#231f20" stroke-width="3.5"/>
<polygon points="483.00,704.00 483.00,727.80 527.20,715.90" fill="#231f20"/>
<line x1="527.20" y1="715.90" x2="597.20" y2="715.90" stroke="#231f20" stroke-width="1.5"/>
<polygon points="639.60,704.00 639.60,727.80 597.20,715.90" fill="#231f20"/>
<line x1="638.00" y1="715.90" x2="739.20" y2="715.90" stroke="#231f20" stroke-width="3.7"/>
<g transform="translate(725.70,736.00) rotate(0) scale(1.0)"><path transform="translate(0.00,0)" d="M24.5,1.5 L4,1.5 L2.4,18.5 C4.8,16.5 8.3,15.6 12.3,15.6 C19,15.6 23.6,20.5 23.6,27.5 C23.6,34.7 18.8,39.5 12.2,39.5 C7.5,39.5 3.5,37.7 1.4,35" fill="none" stroke="#231f20" stroke-width="3.35" stroke-linecap="butt" stroke-linejoin="miter"/><path transform="translate(31.30,0)" d="M14.5,1.5 C5.8,1.5 1.5,10.2 1.5,20.5 C1.5,30.8 5.8,39.5 14.5,39.5 C23.2,39.5 27.5,30.8 27.5,20.5 C27.5,10.2 23.2,1.5 14.5,1.5 Z" fill="none" stroke="#231f20" stroke-width="3.35" stroke-linecap="butt" stroke-linejoin="miter"/></g>
<line x1="405.00" y1="809.80" x2="600.00" y2="809.80" stroke="#231f20" stroke-width="3.7"/>
<polygon points="406.10,798.30 406.10,821.60 361.50,809.80" fill="#231f20"/>
<polygon points="599.20,798.30 599.20,821.60 643.20,809.80" fill="#231f20"/>
<g transform="translate(379.40,840.50) rotate(0) scale(1.0)"><path transform="translate(0.00,0)" d="M1.4,41 L1.4,1.4 L30.6,39.6 L30.6,0" fill="none" stroke="#231f20" stroke-width="3.35" stroke-linecap="butt" stroke-linejoin="miter"/><path transform="translate(36.90,0)" d="M1.5,13 L28.5,41 M28.5,13 L1.5,41" fill="none" stroke="#231f20" stroke-width="3.35" stroke-linecap="butt" stroke-linejoin="miter"/><path transform="translate(72.90,0)" d="M24.5,1.5 L4,1.5 L2.4,18.5 C4.8,16.5 8.3,15.6 12.3,15.6 C19,15.6 23.6,20.5 23.6,27.5 C23.6,34.7 18.8,39.5 12.2,39.5 C7.5,39.5 3.5,37.7 1.4,35" fill="none" stroke="#231f20" stroke-width="3.35" stroke-linecap="butt" stroke-linejoin="miter"/><path transform="translate(103.60,0)" d="M14.5,1.5 C5.8,1.5 1.5,10.2 1.5,20.5 C1.5,30.8 5.8,39.5 14.5,39.5 C23.2,39.5 27.5,30.8 27.5,20.5 C27.5,10.2 23.2,1.5 14.5,1.5 Z" fill="none" stroke="#231f20" stroke-width="3.35" stroke-linecap="butt" stroke-linejoin="miter"/><path transform="translate(137.60,0)" d="M0,24.5 L26.3,24.5 M13.2,11.5 L13.2,38" fill="none" stroke="#231f20" stroke-width="3.35" stroke-linecap="butt" stroke-linejoin="miter"/><path transform="translate(169.90,0)" d="M14.75,19 C9,19 4.8,15.5 4.8,10.2 C4.8,4.9 9,1.5 14.75,1.5 C20.5,1.5 24.7,4.9 24.7,10.2 C24.7,15.5 20.5,19 14.75,19 C7,19 1.5,23 1.5,29.3 C1.5,35.6 7,39.5 14.75,39.5 C22.5,39.5 28,35.6 28,29.3 C28,23 22.5,19 14.75,19 Z" fill="none" stroke="#231f20" stroke-width="3.35" stroke-linecap="butt" stroke-linejoin="miter"/><path transform="translate(199.60,0)" d="M24.5,1.5 L4,1.5 L2.4,18.5 C4.8,16.5 8.3,15.6 12.3,15.6 C19,15.6 23.6,20.5 23.6,27.5 C23.6,34.7 18.8,39.5 12.2,39.5 C7.5,39.5 3.5,37.7 1.4,35" fill="none" stroke="#231f20" stroke-width="3.35" stroke-linecap="butt" stroke-linejoin="miter"/></g>
<rect x="343.40" y="270.60" width="10.60" height="52.60" rx="2.5" fill="#231f20" />
<rect x="336.10" y="274.60" width="9.90" height="45.20" rx="2.5" fill="#231f20" />
<rect x="340.00" y="279.00" width="2.80" height="11.20" rx="1" fill="#fff" />
<rect x="340.00" y="296.90" width="2.80" height="14.50" rx="1" fill="#fff" />
<rect x="382.30" y="323.50" width="35.20" height="9.70" rx="3" fill="#231f20" />
<rect x="385.20" y="326.40" width="3.20" height="3.20" rx="0" fill="#fff" />
<rect x="411.40" y="326.40" width="3.20" height="3.20" rx="0" fill="#fff" />
<ellipse cx="400" cy="327.9" rx="5" ry="1.6" fill="#fff"/>
<rect x="386.50" y="332.50" width="28.50" height="30.10" rx="0" fill="#231f20" />
<rect x="389.80" y="335.20" width="22.00" height="23.50" rx="0" fill="#fff" />
<rect x="388.50" y="360.00" width="24.50" height="8.40" rx="4" fill="#231f20" />
<rect x="392.00" y="363.20" width="17.00" height="1.40" rx="0" fill="#fff" />
<ellipse cx="382.8" cy="347.2" rx="10.6" ry="14.6" transform="rotate(-22 382.8 347.2)" fill="#231f20"/>
<ellipse cx="382.8" cy="347.2" rx="7.4" ry="11.4" transform="rotate(-22 382.8 347.2)" fill="#fff"/>
<polygon points="352.10,328.20 362.00,326.50 371.00,329.50 378.00,333.50 383.50,339.50 386.80,347.00 387.20,354.00 385.50,360.00 384.20,366.50 374.80,371.20 368.50,371.20 364.60,361.80 358.30,350.90 353.60,343.80" fill="#231f20"/>
<rect x="343.40" y="544.60" width="10.60" height="52.60" rx="2.5" fill="#231f20" />
<rect x="336.10" y="548.60" width="9.90" height="45.20" rx="2.5" fill="#231f20" />
<rect x="340.00" y="553.00" width="2.80" height="11.20" rx="1" fill="#fff" />
<rect x="340.00" y="570.90" width="2.80" height="14.50" rx="1" fill="#fff" />
<rect x="382.30" y="597.50" width="35.20" height="9.70" rx="3" fill="#231f20" />
<rect x="385.20" y="600.40" width="3.20" height="3.20" rx="0" fill="#fff" />
<rect x="411.40" y="600.40" width="3.20" height="3.20" rx="0" fill="#fff" />
<ellipse cx="400" cy="601.9" rx="5" ry="1.6" fill="#fff"/>
<rect x="386.50" y="606.50" width="28.50" height="30.10" rx="0" fill="#231f20" />
<rect x="389.80" y="609.20" width="22.00" height="23.50" rx="0" fill="#fff" />
<rect x="388.50" y="634.00" width="24.50" height="8.40" rx="4" fill="#231f20" />
<rect x="392.00" y="637.20" width="17.00" height="1.40" rx="0" fill="#fff" />
<ellipse cx="382.8" cy="621.2" rx="10.6" ry="14.6" transform="rotate(-22 382.8 621.2)" fill="#231f20"/>
<ellipse cx="382.8" cy="621.2" rx="7.4" ry="11.4" transform="rotate(-22 382.8 621.2)" fill="#fff"/>
<polygon points="352.10,602.20 362.00,600.50 371.00,603.50 378.00,607.50 383.50,613.50 386.80,621.00 387.20,628.00 385.50,634.00 384.20,640.50 374.80,645.20 368.50,645.20 364.60,635.80 358.30,624.90 353.60,617.80" fill="#231f20"/>
<rect x="155.10" y="197.30" width="16.20" height="13.70" rx="2" fill="#231f20" />
<rect x="160.00" y="206.80" width="14.60" height="4.20" rx="0" fill="#231f20" />
<rect x="149.60" y="210.00" width="44.10" height="15.80" rx="3" fill="#231f20" />
<rect x="163.00" y="219.60" width="4.40" height="6.20" rx="0" fill="#fff" />
<rect x="175.80" y="219.60" width="4.50" height="6.20" rx="0" fill="#fff" />
<rect x="151.80" y="225.50" width="39.70" height="27.50" rx="0" fill="#231f20" />
<rect x="151.20" y="252.60" width="40.30" height="14.60" rx="3" fill="#231f20" />
<rect x="156.80" y="225.80" width="5.00" height="26.80" rx="0" fill="#fff" />
<rect x="165.20" y="228.50" width="12.80" height="31.90" rx="0" fill="#fff" />
<rect x="182.00" y="225.80" width="5.00" height="26.80" rx="0" fill="#fff" />
<polygon points="189.20,277.40 189.20,270.00 193.00,266.50 194.50,262.50 199.30,262.50 199.30,277.40" fill="#231f20"/>
<rect x="154.60" y="267.00" width="32.70" height="11.00" rx="0" fill="#231f20" />
<rect x="158.50" y="267.50" width="25.10" height="9.70" rx="0" fill="#fff" />
<polygon points="151.80,277.20 190.90,277.20 197.00,280.00 197.00,345.00 151.00,345.00 141.20,342.60 141.20,330.00 137.30,325.80 141.20,321.50 141.20,306.50 137.30,302.30 141.20,298.00 141.20,286.70 146.00,284.50 151.80,284.50" fill="#231f20"/>
<polygon points="146.70,291.70 152.70,291.70 152.70,296.40 147.40,303.80 146.70,303.80" fill="#fff"/>
<polygon points="146.70,325.20 147.40,325.20 152.70,333.50 152.70,338.00 146.70,338.00" fill="#fff"/>
<polygon points="189.90,291.70 196.00,291.70 196.00,303.80 195.30,303.80 189.90,296.40" fill="#fff"/>
<polygon points="189.90,333.50 195.30,325.20 196.00,325.20 196.00,338.00 189.90,338.00" fill="#fff"/>
<path d="M163.5,300.4 Q171.5,295 179.5,300.4 Q171.5,300.9 163.5,300.4 Z" fill="#fff"/>
<path d="M163.5,329.6 Q171.5,335 179.5,329.6 Q171.5,329.1 163.5,329.6 Z" fill="#fff"/>
<rect x="161.80" y="303.80" width="19.10" height="10.40" rx="0" fill="#fff" />
<rect x="165.10" y="319.90" width="12.80" height="6.00" rx="0" fill="#fff" />
<rect x="156.00" y="344.00" width="34.00" height="9.00" rx="0" fill="#231f20" />
<rect x="162.40" y="348.70" width="18.40" height="3.90" rx="0" fill="#fff" />
<polygon points="151.80,356.00 154.50,352.60 190.00,352.60 192.60,356.00 192.60,377.40 188.00,382.00 180.30,382.00 180.30,386.10 162.80,386.10 162.80,382.00 156.00,382.00 151.50,377.40" fill="#231f20"/>
<rect x="155.00" y="358.40" width="34.00" height="0.80" rx="0" fill="#9a9a9a" />
<rect x="158.80" y="363.30" width="10.10" height="13.20" rx="0" fill="#fff" />
<rect x="174.20" y="363.30" width="9.40" height="13.20" rx="0" fill="#fff" />
<rect x="115.30" y="460.20" width="15.70" height="13.80" rx="2" fill="#231f20" />
<rect x="109.10" y="472.70" width="44.60" height="15.60" rx="3" fill="#231f20" />
<rect x="112.80" y="486.00" width="2.80" height="20.00" rx="0" fill="#231f20" />
<rect x="147.00" y="486.00" width="2.70" height="20.00" rx="0" fill="#231f20" />
<polygon points="116.80,491.90 144.70,491.90 152.50,505.30 152.50,535.00 109.50,535.00 109.50,505.30" fill="#231f20"/>
<rect x="123.50" y="507.90" width="0.80" height="25.00" rx="0" fill="#8a8a8a" />
<rect x="123.55" y="498.50" width="0.70" height="5.00" rx="0" fill="#8a8a8a" />
<rect x="131.40" y="507.90" width="0.80" height="25.00" rx="0" fill="#8a8a8a" />
<rect x="131.45" y="498.50" width="0.70" height="5.00" rx="0" fill="#8a8a8a" />
<rect x="139.20" y="507.90" width="0.80" height="25.00" rx="0" fill="#8a8a8a" />
<rect x="139.25" y="498.50" width="0.70" height="5.00" rx="0" fill="#8a8a8a" />
<rect x="107.80" y="533.20" width="45.80" height="14.50" rx="0" fill="#231f20" />
<rect x="114.00" y="537.10" width="13.90" height="9.50" rx="0" fill="#fff" />
<rect x="135.80" y="537.10" width="12.20" height="9.50" rx="0" fill="#fff" />
<rect x="130.20" y="536.80" width="0.90" height="9.40" rx="0" fill="#8a8a8a" />
<polygon points="101.00,547.40 158.40,547.40 158.40,607.00 101.00,607.00 97.40,603.00 97.40,592.90 95.80,588.90 97.40,584.90 97.40,570.10 95.80,566.10 97.40,562.10 97.40,551.40" fill="#231f20"/>
<polygon points="106.10,554.70 112.50,554.70 106.10,567.00" fill="#fff"/>
<polygon points="106.10,589.50 112.50,601.50 106.10,601.50" fill="#fff"/>
<polygon points="150.50,554.70 156.00,554.70 156.00,567.00" fill="#fff"/>
<polygon points="156.00,589.50 156.00,601.50 150.50,601.50" fill="#fff"/>
<path d="M123.6,563.2 Q131.3,558.6 139,563.2 Q131.3,563.5 123.6,563.2 Z" fill="#fff"/>
<path d="M123.6,592.8 Q131.3,597.4 139,592.8 Q131.3,592.5 123.6,592.8 Z" fill="#fff"/>
<path d="M118,583.3 C117.5,573.5 123,569.3 131.5,569.3 C140,569.3 145.5,573.5 145,583.3 Z" fill="#fff"/>
<rect x="124.80" y="569.00" width="2.80" height="11.00" rx="0" fill="#231f20" />
<rect x="134.80" y="569.00" width="2.80" height="11.00" rx="0" fill="#231f20" />
<rect x="119.50" y="579.40" width="24.00" height="11.60" rx="1.5" fill="#231f20" />
<rect x="115.50" y="606.00" width="33.50" height="12.00" rx="0" fill="#231f20" />
<rect x="118.30" y="615.80" width="28.00" height="1.60" rx="0" fill="#fff" />
<path d="M111.5,621 Q111.5,617.8 114.5,617.8 L148.7,617.8 Q151.7,617.8 151.7,621 L151.7,634.5 C151.7,643 143,648.6 131.6,648.6 C120.2,648.6 111.5,643 111.5,634.5 Z" fill="#231f20"/>
<rect x="116.10" y="620.40" width="4.10" height="14.10" rx="0" fill="#fff" />
<rect x="125.50" y="620.40" width="13.40" height="14.10" rx="0" fill="#fff" />
<rect x="143.00" y="620.40" width="3.30" height="14.10" rx="0" fill="#fff" />
<path d="M216.80,215.20 L216.80,243.00 L200.40,263.00 L200.40,363.00 L216.90,390.00 L216.90,494.00 L161.00,517.60 L161.00,636.50" fill="none" stroke="#231f20" stroke-width="8.2" stroke-linejoin="round" stroke-linecap="butt"/>
<path d="M216.80,218.20 L216.80,243.00 L200.40,263.00 L200.40,363.00 L216.90,390.00 L216.90,494.00 L161.00,517.60 L161.00,633.50" fill="none" stroke="#fff" stroke-width="1.1" stroke-linejoin="round"/>
<rect x="203.50" y="272.70" width="8.10" height="10.00" rx="1.2" fill="#231f20" />
<rect x="205.80" y="275.50" width="3.50" height="4.40" rx="0" fill="#fff" />
<rect x="203.50" y="348.20" width="8.10" height="10.00" rx="1.2" fill="#231f20" />
<rect x="205.80" y="351.00" width="3.50" height="4.40" rx="0" fill="#fff" />
<rect x="164.20" y="535.20" width="7.60" height="11.80" rx="1.2" fill="#231f20" />
<rect x="166.50" y="538.00" width="3.00" height="6.20" rx="0" fill="#fff" />
<rect x="164.50" y="611.00" width="7.30" height="10.00" rx="1.2" fill="#231f20" />
<rect x="166.80" y="613.80" width="2.70" height="4.40" rx="0" fill="#fff" />
</svg>
</body></html>
